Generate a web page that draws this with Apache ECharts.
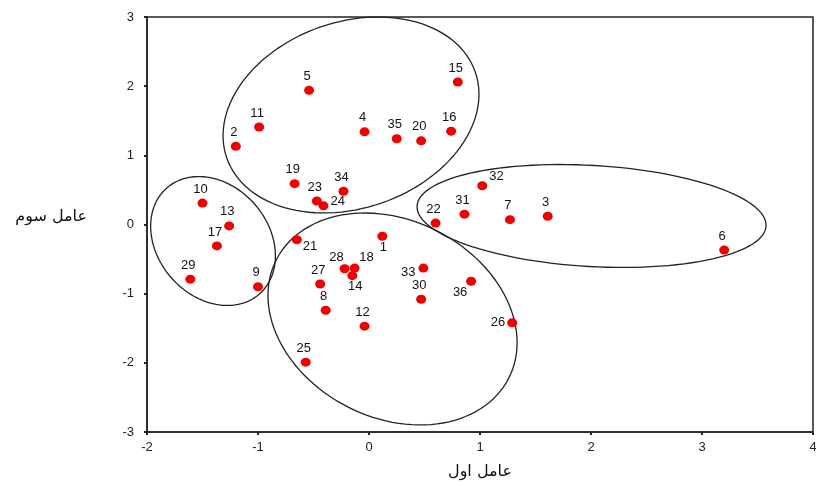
<!DOCTYPE html>
<html>
<head>
<meta charset="utf-8">
<script src="https://cdn.jsdelivr.net/npm/echarts@6/dist/echarts.min.js"></script>
<style>
html,body{margin:0;padding:0;background:#fff;}
#chart{width:816px;height:485px;}
</style>
</head>
<body>
<div id="chart"></div>
<script>
// ---- data ----
const pointIds = ['1','2','3','4','5','6','7','8','9','10','11','12','13','14','15','16','17','18','19','20','21','22','23','24','25','26','27','28','29','30','31','32','33','34','35','36'];
const factor1 = [0.12,-1.20,1.61,-0.04,-0.54,3.20,1.27,-0.39,-1.00,-1.50,-0.99,-0.04,-1.26,-0.15,0.80,0.74,-1.37,-0.13,-0.67,0.47,-0.65,0.60,-0.47,-0.41,-0.57,1.29,-0.44,-0.22,-1.61,0.47,0.86,1.02,0.49,-0.23,0.25,0.92];
const factor3 = [-0.17,1.13,0.12,1.34,1.94,-0.37,0.07,-1.24,-0.90,0.31,1.41,-1.47,-0.02,-0.74,2.06,1.35,-0.31,-0.63,0.59,1.21,-0.22,0.02,0.34,0.27,-1.99,-1.42,-0.86,-0.64,-0.79,-1.08,0.15,0.56,-0.63,0.48,1.24,-0.82];
const xTicks = [-2,-1,0,1,2,3,4];
const yTicks = [-3,-2,-1,0,1,2,3];
const xTitle = 'عامل اول';
const yTitle = 'عامل سوم';
// cluster ellipses in data units: centre x, centre y, semi-axis u (x,y), semi-axis v (x,y)
const ellipseCx = [-0.162, -1.405, 2.005, 0.212];
const ellipseCy = [1.583, -0.239, 0.123, -1.366];
const ellipseUx = [1.120, 0.416, 1.572, 1.047];
const ellipseUy = [0.619, -0.768, -0.145, -0.856];
const ellipseVx = [0.273, -0.378, -0.026, -0.404];
const ellipseVy = [-1.274, -0.528, -0.730, -1.271];

// ---- label placement (style) ----
const labelPlace = {
  '1': {position:'bottom', offset:[1,-3]},
  '21': {position:'right', offset:[-2,7]},
  '28': {position:'top', offset:[-8,3]},
  '18': {position:'top', offset:[12,3]},
  '14': {position:'bottom', offset:[3,-3]},
  '33': {position:'left', offset:[0,4]},
  '36': {position:'bottom', offset:[-11,-3]},
  '26': {position:'left', offset:[1,0]},
  '24': {position:'right', offset:[-1,-4]},
  '32': {position:'right', offset:[-1,-9]}
};

const chart = echarts.init(document.getElementById('chart'), null, {renderer:'canvas'});

const scatterData = pointIds.map((id, i) => {
  const p = labelPlace[id] || {position:'top', offset:[-2,0]};
  return {name:id, value:[factor1[i], factor3[i]], label:{position:p.position, offset:p.offset}};
});

const ellipseData = ellipseCx.map((c, i) => [c, ellipseCy[i], ellipseUx[i], ellipseUy[i], ellipseVx[i], ellipseVy[i]]);

const font = 'Liberation Sans, Arial, sans-serif';

chart.setOption({
  animation:false,
  backgroundColor:'#fff',
  grid:{left:147, top:17, right:3, bottom:53, show:true, borderColor:'#222', borderWidth:1.5, backgroundColor:'transparent', containLabel:false, outerBoundsMode:'none'},
  xAxis:{
    type:'value', min:xTicks[0], max:xTicks[xTicks.length-1], interval:1,
    name:xTitle, nameLocation:'middle', nameGap:32,
    nameTextStyle:{fontFamily:'DejaVu Sans', fontSize:16, color:'#111'},
    axisLine:{show:true, onZero:false, lineStyle:{color:'#222', width:1.5}},
    axisTick:{show:true, length:3, lineStyle:{color:'#222', width:2}},
    axisLabel:{margin:9, fontFamily:font, fontSize:13, color:'#222'},
    splitLine:{show:false}
  },
  yAxis:{
    type:'value', min:yTicks[0], max:yTicks[yTicks.length-1], interval:1,
    name:yTitle, nameLocation:'middle', nameRotate:0, nameGap:60,
    nameTextStyle:{fontFamily:'DejaVu Sans', fontSize:16, color:'#111', align:'right', verticalAlign:'bottom'},
    axisLine:{show:true, onZero:false, lineStyle:{color:'#222', width:1.5}},
    axisTick:{show:true, length:3, lineStyle:{color:'#222', width:2}},
    axisLabel:{margin:13, fontFamily:font, fontSize:13, color:'#222'},
    splitLine:{show:false}
  },
  series:[
    {
      type:'custom',
      coordinateSystem:'cartesian2d',
      silent:true,
      clip:false,
      z:1,
      data:ellipseData,
      renderItem:function(params, api){
        const cx = api.value(0), cy = api.value(1);
        const ux = api.value(2), uy = api.value(3);
        const vx = api.value(4), vy = api.value(5);
        const pts = [];
        const N = 120;
        for (let k = 0; k < N; k++) {
          const t = 2*Math.PI*k/N;
          const c = Math.cos(t), s = Math.sin(t);
          pts.push(api.coord([cx + c*ux + s*vx, cy + c*uy + s*vy]));
        }
        return {type:'polygon', shape:{points:pts}, style:{fill:'none', stroke:'#222', lineWidth:1.3}};
      }
    },
    {
      type:'scatter',
      z:3,
      symbol:'circle',
      symbolSize:[10,9],
      itemStyle:{color:'#f00000', opacity:1},
      label:{show:true, formatter:'{b}', distance:3, fontFamily:font, fontSize:13, color:'#111'},
      data:scatterData
    }
  ]
});
</script>
</body>
</html>
